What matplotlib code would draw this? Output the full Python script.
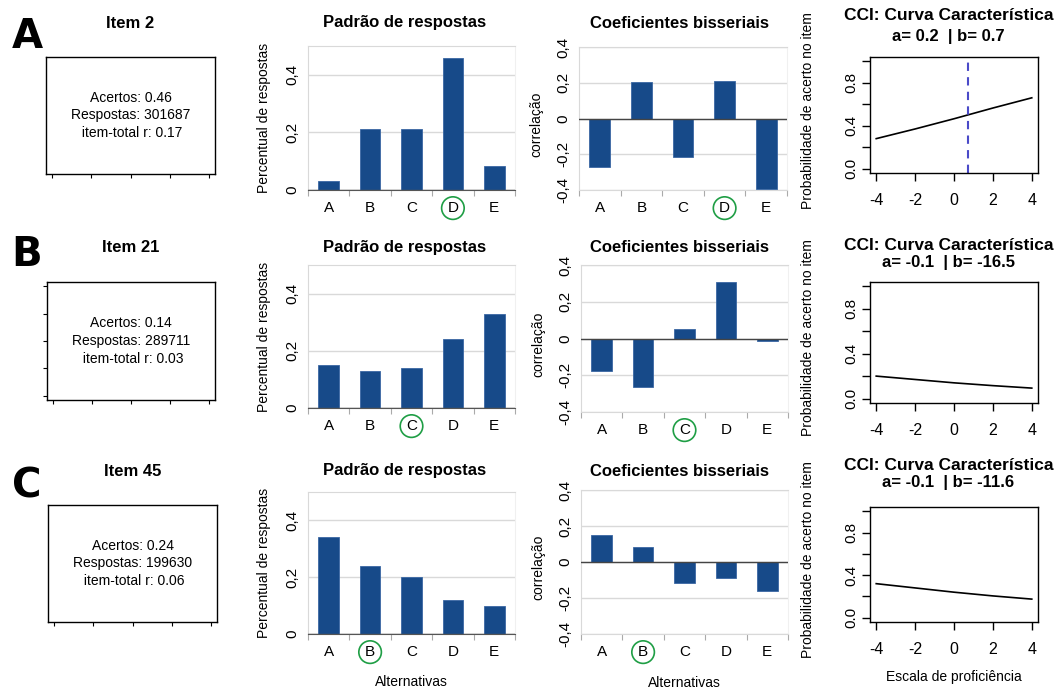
import matplotlib
matplotlib.use("Agg")
import matplotlib.pyplot as plt

plt.rcParams['font.family'] = ['Liberation Sans', 'DejaVu Sans']

# dados
alternativas = ['A', 'B', 'C', 'D', 'E']
paineis = ['A', 'B', 'C']
itens = ['Item 2', 'Item 21', 'Item 45']
acertos = [0.46, 0.14, 0.24]
respostas = [301687, 289711, 199630]
item_total = [0.17, 0.03, 0.06]
gabarito = ['D', 'C', 'B']

padrao_2 = [0.031, 0.212, 0.212, 0.459, 0.083]
padrao_21 = [0.150, 0.130, 0.140, 0.240, 0.330]
padrao_45 = [0.342, 0.240, 0.200, 0.119, 0.099]

bisserial_2 = [-0.270, 0.205, -0.218, 0.211, -0.396]
bisserial_21 = [-0.178, -0.265, 0.049, 0.307, -0.015]
bisserial_45 = [0.150, 0.085, -0.115, -0.089, -0.159]

irt_a = [0.2, -0.1, -0.1]
irt_b = [0.7, -16.5, -11.6]
theta = [-4, -2, 0, 2, 4]
cci_2 = [0.28, 0.37, 0.465, 0.565, 0.66]
cci_21 = [0.20, 0.17, 0.14, 0.115, 0.093]
cci_45 = [0.32, 0.28, 0.24, 0.205, 0.175]

padroes = [padrao_2, padrao_21, padrao_45]
bisseriais = [bisserial_2, bisserial_21, bisserial_45]
ccis = [cci_2, cci_21, cci_45]

W, H = 1057, 691
fig = plt.figure(figsize=(W / 100, H / 100), dpi=100)


def eixo(x0, y0, x1, y1):
    return fig.add_axes([x0 / W, 1 - y1 / H, (x1 - x0) / W, (y1 - y0) / H])


azul = '#174a89'
cinza = '#d9d9d9'
verde = '#1f9e45'

caixas = [(46, 57, 215, 174), (47, 282, 215, 400), (48, 505, 217, 622)]
pos_padrao = [(308, 46, 515, 190), (308, 265, 515, 408), (308, 492, 515, 634)]
pos_coef = [(579, 47, 787, 190), (581, 265, 788, 412), (581, 490, 788, 634)]
pos_cci = [(870, 57, 1038, 173), (870, 282, 1038, 403), (870, 507, 1038, 622)]
y_titulo = [23, 247, 471]
y_letra = [37, 255, 487]
y_cci_t = [(16, 36), (245, 263), (465, 483)]


def barras(ax, vals, correta, ymin, ymax, ticks, ticklabels, ylabel, lx, ly):
    x = list(range(len(alternativas)))
    ax.bar(x, vals, width=0.5, color=azul, edgecolor='#3a67a3', linewidth=0.6, zorder=3)
    ax.set_xlim(-0.5, 4.5)
    ax.set_ylim(ymin, ymax)
    ax.set_xticks(x)
    ax.set_xticklabels(alternativas, fontsize=11)
    ax.set_xticks([i - 0.5 for i in range(6)], minor=True)
    ax.tick_params(axis='x', which='major', length=0, pad=8)
    ax.tick_params(axis='x', which='minor', length=4, color='#aaaaaa', width=0.8)
    ax.set_yticks(ticks)
    ax.set_yticklabels(ticklabels, rotation=90, va='center', fontsize=11)
    ax.tick_params(axis='y', length=0, pad=6)
    ax.grid(axis='y', color=cinza, lw=1, zorder=0)
    for s in ['left', 'top', 'bottom']:
        ax.spines[s].set_color(cinza)
    ax.spines['right'].set_color('#f0f0f0')
    ax.set_ylabel(ylabel, fontsize=10)
    ax.yaxis.set_label_coords(lx, ly)
    lab = ax.get_xticklabels()[alternativas.index(correta)]
    lab.set_bbox(dict(boxstyle='circle,pad=0.28', fc='none', ec=verde, lw=1.2))


for r in range(3):
    # letra do painel
    fig.text(27 / W, 1 - y_letra[r] / H, paineis[r], fontsize=29, fontweight='bold',
             family='DejaVu Sans', ha='center', va='center')

    # caixa de resumo
    ax = eixo(*caixas[r])
    ax.set_xlim(-0.04, 1.04)
    ax.set_ylim(-0.04, 1.04)
    ax.set_xticks([0, 0.25, 0.5, 0.75, 1])
    ax.set_xticklabels([])
    if r == 1:
        ax.set_yticks([0, 0.25, 0.5, 0.75, 1])
    else:
        ax.set_yticks([])
    ax.set_yticklabels([])
    ax.tick_params(length=3, width=0.8)
    for s in ax.spines.values():
        s.set_linewidth(1.0)
    ax.text(0.5, 0.5, 'Acertos: %.2f\nRespostas: %d\n item-total r: %.2f'
            % (acertos[r], respostas[r], item_total[r]),
            ha='center', va='center', fontsize=10, linespacing=1.35)
    cx = (caixas[r][0] + caixas[r][2]) / 2
    fig.text(cx / W, 1 - y_titulo[r] / H, itens[r], fontsize=12, fontweight='bold',
             ha='center', va='center')

    # padrao de respostas
    ax = eixo(*pos_padrao[r])
    barras(ax, padroes[r], gabarito[r], 0, 0.5, [0, 0.2, 0.4], ['0', '0,2', '0,4'],
           'Percentual de respostas', -0.18, 0.5)
    ax.spines['bottom'].set_color('#555555')
    ax.axhline(0, color='#555555', lw=1, zorder=4)
    fig.text(405 / W, 1 - y_titulo[r] / H, 'Padrão de respostas', fontsize=12,
             fontweight='bold', ha='center', va='center')
    if r == 2:
        ax.set_xlabel('Alternativas', fontsize=10)
        ax.xaxis.set_label_coords(0.5, -48 / 142)
        ax.xaxis.label.set_verticalalignment('center')

    # coeficientes bisseriais
    ax = eixo(*pos_coef[r])
    barras(ax, bisseriais[r], gabarito[r], -0.4, 0.4, [-0.4, -0.2, 0, 0.2, 0.4],
           ['-0,4', '-0,2', '0', '0,2', '0,4'], 'correlação', -0.17, 0.46)
    ax.axhline(0, color='#444444', lw=1, zorder=4)
    fig.text(680 / W, 1 - y_titulo[r] / H, 'Coeficientes bisseriais', fontsize=12,
             fontweight='bold', ha='center', va='center')
    if r == 2:
        ax.set_xlabel('Alternativas', fontsize=10)
        ax.xaxis.set_label_coords(0.5, -49 / 144)
        ax.xaxis.label.set_verticalalignment('center')

    # curva caracteristica
    ax = eixo(*pos_cci[r])
    ax.plot(theta, ccis[r], color='black', lw=1.2)
    if -4 <= irt_b[r] <= 4:
        ax.axvline(irt_b[r], color='#4a4ac8', lw=1.5, ls=(0, (4, 3)))
    ax.set_xlim(-4.32, 4.32)
    ax.set_ylim(-0.04, 1.04)
    ax.set_xticks(theta)
    ax.set_xticklabels([str(t) for t in theta], fontsize=11.5)
    ax.set_yticks([0, 0.2, 0.4, 0.6, 0.8, 1.0])
    ax.set_yticklabels(['0.0', '', '0.4', '', '0.8', ''], rotation=90, va='center', fontsize=11)
    ax.tick_params(length=5.5, width=1)
    ax.tick_params(axis='x', pad=9)
    ax.tick_params(axis='y', pad=3)
    for s in ax.spines.values():
        s.set_linewidth(1.0)
    ax.set_ylabel('Probabilidade de acerto no item', fontsize=10)
    ax.yaxis.set_label_coords(-0.33, 0.54)
    t1, t2 = y_cci_t[r]
    fig.text(949 / W, 1 - t1 / H, 'CCI: Curva Característica', fontsize=12.5,
             fontweight='bold', ha='center', va='center')
    fig.text(948 / W, 1 - t2 / H, 'a= %s  | b= %s' % (irt_a[r], irt_b[r]), fontsize=12,
             fontweight='bold', ha='center', va='center')
    if r == 2:
        ax.set_xlabel('Escala de proficiência', fontsize=10)
        ax.xaxis.set_label_coords(0.5, -55 / 115)
        ax.xaxis.label.set_verticalalignment('center')

fig.savefig('out.png', dpi=100)
